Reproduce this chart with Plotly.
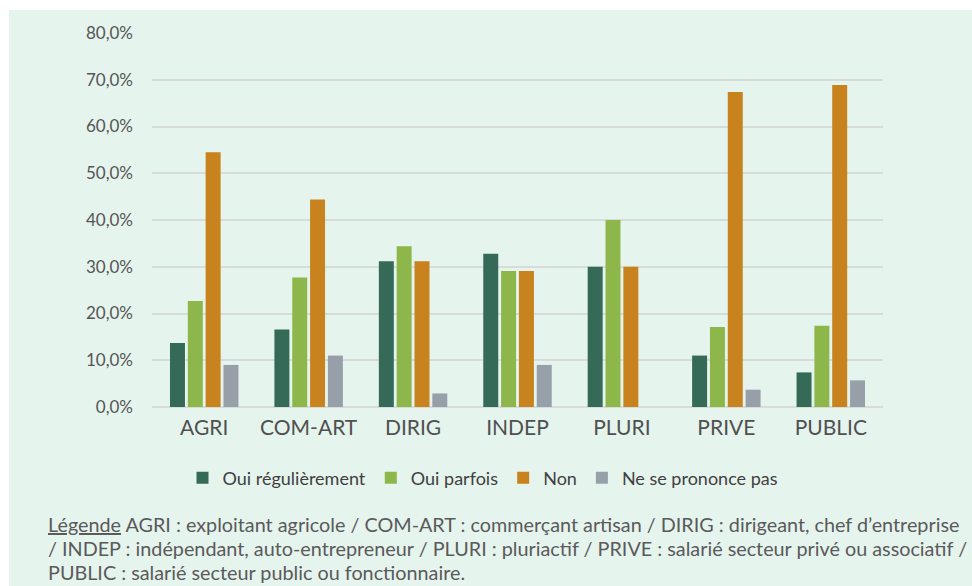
import plotly.graph_objects as go

# Catégories socio-professionnelles
categories = ["AGRI", "COM-ART", "DIRIG", "INDEP", "PLURI", "PRIVE", "PUBLIC"]

# Réponses (%)
oui_regulierement = [13.7, 16.6, 31.2, 32.8, 30.0, 11.0, 7.4]
oui_parfois = [22.7, 27.7, 34.4, 29.1, 40.0, 17.1, 17.4]
non = [54.5, 44.4, 31.2, 29.1, 30.0, 67.4, 68.9]
ne_se_prononce_pas = [9.0, 11.0, 2.9, 9.0, 0.0, 3.7, 5.7]

series_names = ["Oui régulièrement", "Oui parfois", "Non", "Ne se prononce pas"]
series_values = [oui_regulierement, oui_parfois, non, ne_se_prononce_pas]
series_colors = ["#346a57", "#8db74b", "#c8821e", "#97a0a9"]

y_ticks = [0, 10, 20, 30, 40, 50, 60, 70, 80]
y_tick_labels = [f"{v},0%" for v in y_ticks]

caption_lines = [
    "<span style='text-decoration:underline'>Légende</span> AGRI : exploitant agricole / COM-ART : commerçant artisan / DIRIG : dirigeant, chef d\u2019entreprise",
    "/ INDEP : indépendant, auto-entrepreneur / PLURI : pluriactif / PRIVE : salarié secteur privé ou associatif /",
    "PUBLIC : salarié secteur public ou fonctionnaire.",
]

FONT = "Lato"
TEXT = "#555555"
BG = "#e6f4ee"

W, H = 972, 586
ML, MR, MT, MB = 152, 89, 33, 179
PW, PH = W - ML - MR, H - MT - MB


def px_to_paper_x(px):
    return (px - ML) / PW


def px_to_paper_y(py):
    return (H - MB - py) / PH


fig = go.Figure()
for name, vals, col in zip(series_names, series_values, series_colors):
    fig.add_trace(go.Bar(x=categories, y=vals, name=name, marker_color=col,
                         marker_line_width=0))

fig.update_layout(
    width=W, height=H,
    margin=dict(l=ML, r=MR, t=MT, b=MB),
    paper_bgcolor=BG,
    plot_bgcolor=BG,
    barmode="group",
    bargap=0.317,
    bargroupgap=0.16,
    font=dict(family=FONT, color=TEXT),
    showlegend=True,
    legend=dict(
        orientation="h",
        x=px_to_paper_x(483), xanchor="center",
        y=px_to_paper_y(478), yanchor="middle",
        font=dict(family=FONT, size=18, color="#404040"),
        bgcolor="rgba(0,0,0,0)",
        itemwidth=30,
        traceorder="normal",
    ),
    xaxis=dict(
        showgrid=False, showline=False, ticks="",
        tickfont=dict(family=FONT, size=21, color="#505050"),
        ticklabelstandoff=6,
    ),
    yaxis=dict(
        range=[0, 80], tickvals=y_ticks, ticktext=y_tick_labels,
        showgrid=True, gridcolor="#d7dbd9", gridwidth=2,
        zeroline=True, zerolinecolor="#d7dbd9", zerolinewidth=2,
        showline=False, ticks="",
        tickfont=dict(family=FONT, size=17, color="#555555"),
        ticklabelstandoff=18,
    ),
)

# White frame strips along the top and left edges
fig.add_shape(type="rect", xref="paper", yref="paper", layer="below",
              x0=px_to_paper_x(0), x1=px_to_paper_x(W),
              y0=px_to_paper_y(10), y1=px_to_paper_y(0),
              fillcolor="white", line_width=0)
fig.add_shape(type="rect", xref="paper", yref="paper", layer="below",
              x0=px_to_paper_x(0), x1=px_to_paper_x(9),
              y0=px_to_paper_y(H), y1=px_to_paper_y(0),
              fillcolor="white", line_width=0)

for i, line in enumerate(caption_lines):
    fig.add_annotation(
        text=line, xref="paper", yref="paper", showarrow=False,
        x=px_to_paper_x(46), xanchor="left",
        y=px_to_paper_y(524 + 24 * i), yanchor="middle",
        align="left",
        font=dict(family=FONT, size=19.8, color="#5a5a5a"),
    )

fig.write_html("out.html")
